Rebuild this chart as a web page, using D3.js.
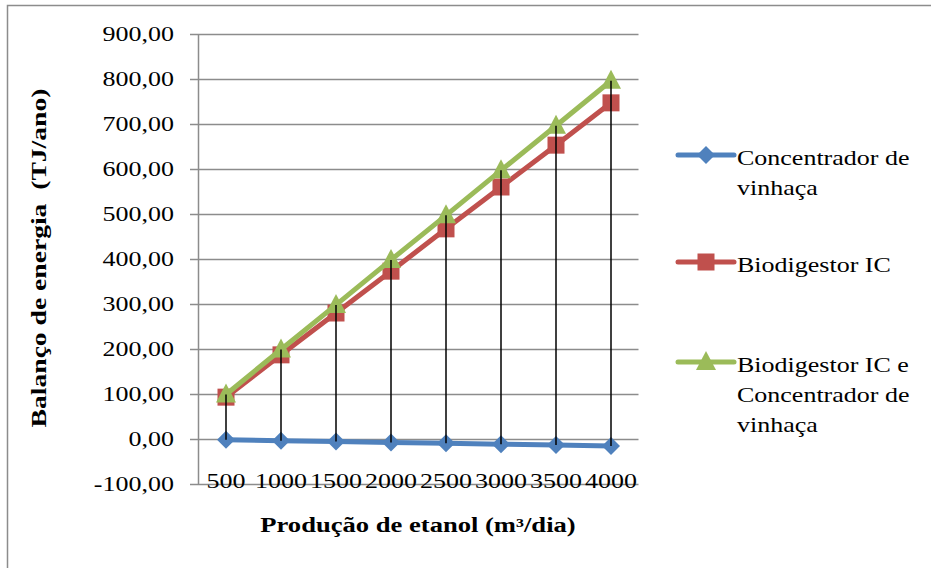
<!DOCTYPE html>
<html>
<head>
<meta charset="utf-8">
<script src="https://cdn.jsdelivr.net/npm/d3@7"></script>
<style>
  body { margin: 0; background: #fff; }
  text { font-family: "Liberation Serif", "Times New Roman", serif; fill: #000; white-space: pre; }
</style>
</head>
<body>
<svg id="chart" width="931" height="568"></svg>
<script>
const categories = ["500", "1000", "1500", "2000", "2500", "3000", "3500", "4000"];
const concentrador = [-1.9, -3.9, -5.8, -7.7, -9.7, -11.6, -13.5, -15.5];
const biodigestor = [93, 187, 280, 373, 467, 560, 653, 747];
const biodigestorConc = [99, 199, 298, 398, 497, 597, 696, 796];
const yTicks = [-100, 0, 100, 200, 300, 400, 500, 600, 700, 800, 900];

const series = [
    { name: ["Concentrador de", "vinhaça"], values: concentrador, color: "#4F81BD", marker: "diamond", ly: 155 },
    { name: ["Biodigestor IC"], values: biodigestor, color: "#C0504D", marker: "square", ly: 262 },
    { name: ["Biodigestor IC e", "Concentrador de", "vinhaça"], values: biodigestorConc, color: "#9BBB59", marker: "triangle", ly: 362 }
];

const SX = 1.3; // text in the picture is drawn wide
const svg = d3.select("#chart");

// outer frame
svg.append("rect")
   .attr("x", 7.5).attr("y", 5.5)
   .attr("width", 940).attr("height", 580)
   .attr("fill", "none").attr("stroke", "#8c8c8c").attr("stroke-width", 1.5);

const x = d3.scaleBand().domain(categories).range([198.5, 638.5]);
const y = d3.scaleLinear().domain([-100, 900]).range([484, 34]);
const cx = c => x(c) + x.bandwidth() / 2;

function stext(g, tx, ty, str, anchor, weight, rot, sx) {
    return g.append("text")
        .attr("transform", `translate(${tx},${ty})` + (rot ? ` rotate(${rot})` : "") + ` scale(${sx || SX},1)`)
        .attr("text-anchor", anchor || "start")
        .attr("font-size", 20)
        .attr("font-weight", weight || "normal")
        .text(str);
}

const fmt = v => d3.format(".2f")(v).replace(".", ",").replace("\u2212", "-");

// gridlines (also serve as y tick marks)
svg.append("g").selectAll("line").data(yTicks).join("line")
   .attr("x1", 190).attr("x2", 638.5)
   .attr("y1", d => Math.round(y(d)) + 0.5).attr("y2", d => Math.round(y(d)) + 0.5)
   .attr("stroke", "#8c8c8c").attr("stroke-width", 1.5);

// y axis line
svg.append("line")
   .attr("x1", 198.5).attr("x2", 198.5)
   .attr("y1", y(900)).attr("y2", y(-100))
   .attr("stroke", "#8c8c8c").attr("stroke-width", 1.5);

// y tick labels
const yl = svg.append("g");
yTicks.forEach(t => stext(yl, 174, y(t) + 7, fmt(t), "end"));

// x tick labels
const xl = svg.append("g");
categories.forEach(c => stext(xl, cx(c), 488, c, "middle"));

// axis titles
stext(svg, 418, 532, "Produção de etanol (m³/dia)", "middle", "bold", 0, 1.33);
stext(svg, 46, 258, "Balanço de energia  (TJ/ano)", "middle", "bold", -90, 1.38);

const line = d3.line().x((d, i) => cx(categories[i])).y(d => y(d));

function marker(g, type, color, px, py) {
    if (type === "diamond") {
        g.append("path").attr("d", `M${px},${py - 9}L${px + 9},${py}L${px},${py + 9}L${px - 9},${py}Z`).attr("fill", color);
    } else if (type === "square") {
        g.append("rect").attr("x", px - 8.5).attr("y", py - 8.5).attr("width", 17).attr("height", 17).attr("fill", color);
    } else {
        g.append("path").attr("d", `M${px},${py - 11}L${px + 10},${py + 8}L${px - 10},${py + 8}Z`).attr("fill", color);
    }
}

const plot = svg.append("g");
series.forEach(s => {
    plot.append("path")
        .datum(s.values)
        .attr("d", line)
        .attr("fill", "none")
        .attr("stroke", s.color)
        .attr("stroke-width", 5)
        .attr("stroke-linejoin", "round");
    s.values.forEach((v, i) => marker(plot, s.marker, s.color, cx(categories[i]), y(v)));
});

// high-low lines
const hl = svg.append("g");
categories.forEach((c, i) => {
    const vals = series.map(s => s.values[i]);
    hl.append("line")
      .attr("x1", cx(c)).attr("x2", cx(c))
      .attr("y1", y(d3.max(vals))).attr("y2", y(d3.min(vals)))
      .attr("stroke", "#000").attr("stroke-width", 1.5);
});

// legend
const lg = svg.append("g");
series.forEach(s => {
    lg.append("line")
      .attr("x1", 678).attr("x2", 734)
      .attr("y1", s.ly).attr("y2", s.ly)
      .attr("stroke", s.color).attr("stroke-width", 5).attr("stroke-linecap", "round");
    marker(lg, s.marker, s.color, 706, s.ly);
    s.name.forEach((t, k) => stext(lg, 737, s.ly + 10 + k * 30, t, "start"));
});
</script>
</body>
</html>
